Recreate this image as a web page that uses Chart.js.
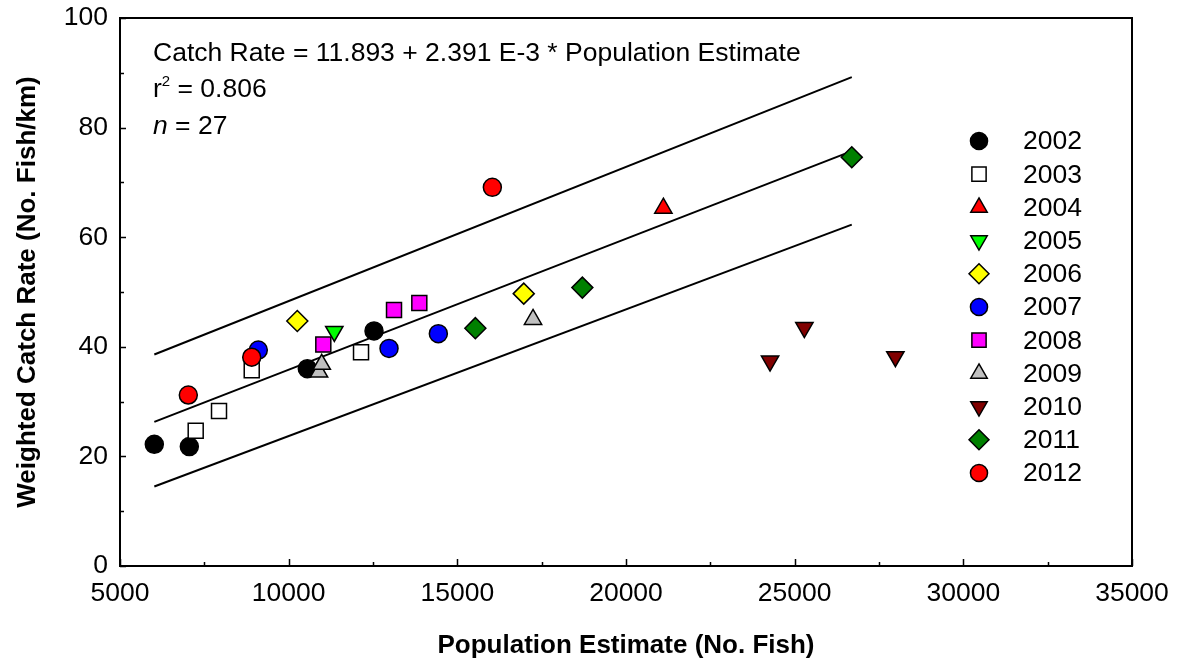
<!DOCTYPE html>
<html>
<head>
<meta charset="utf-8">
<script src="https://cdn.jsdelivr.net/npm/chart.js@4.4.1/dist/chart.umd.min.js"></script>
<style>
  html, body { margin: 0; padding: 0; background: #fff; }
  #wrap { width: 1178px; height: 665px; }
</style>
</head>
<body>
<div id="wrap"><canvas id="chart" width="1178" height="665"></canvas></div>
<script>
// values, one row per sampling year
const years = ["2002", "2003", "2004", "2005", "2006", "2007", "2008", "2009", "2010", "2011", "2012"];
const popEstimate = [
  [6017, 7055, 10553, 12530],
  [7244, 7935, 8905, 12145],
  [21108],
  [11353],
  [10256, 16969],
  [9100, 12975, 14437],
  [11027, 13123, 13873],
  [10900, 10980, 17244],
  [24271, 25288, 27985],
  [15534, 18706, 26693],
  [7025, 8905, 16038],
];
const catchRate = [
  [22.2, 21.8, 36.0, 42.9],
  [24.7, 28.3, 35.7, 39.0],
  [65.3],
  [42.8],
  [44.7, 49.7],
  [39.4, 39.7, 42.4],
  [40.4, 46.7, 48.0],
  [35.4, 36.8, 45.0],
  [37.4, 43.5, 38.2],
  [43.4, 50.8, 74.6],
  [31.2, 38.1, 69.1],
];

// regression line and its two bounding lines (end points)
const lineX = [6017, 26693];
const fitY = [26.3, 75.7];
const upperY = [38.6, 89.2];
const lowerY = [14.5, 62.3];

const xTicks = [5000, 10000, 15000, 20000, 25000, 30000, 35000];
const yTicks = [0, 20, 40, 60, 80, 100];

const fillColors = ["#000000", "#ffffff", "#ff0000", "#00ff00", "#ffff00", "#0000ff", "#ff00ff", "#c0c0c0", "#800000", "#008000", "#ff0000"];
const shapes = ["circle", "rect", "triangle", "triangle", "rectRot", "circle", "rect", "triangle", "triangle", "rectRot", "circle"];
const turns = [0, 0, 0, 180, 0, 0, 0, 0, 180, 0, 0];
const sizes = { circle: 9, rect: 10.6, triangle: 10, rectRot: 10.5 };

const FONT = "'Liberation Sans', Arial, Helvetica, sans-serif";
const TXT = 26.5;

function pairs(xs, ys) {
  return xs.map((v, i) => ({ x: v, y: ys[i] }));
}

const scatterSets = years.map((yr, i) => ({
  label: yr,
  data: pairs(popEstimate[i], catchRate[i]),
  showLine: false,
  pointStyle: shapes[i],
  rotation: turns[i],
  pointRadius: sizes[shapes[i]],
  pointHoverRadius: sizes[shapes[i]],
  pointBackgroundColor: fillColors[i],
  pointBorderColor: "#000",
  pointBorderWidth: 1.5,
  order: years.length - i,
}));

function lineSet(label, ys) {
  return {
    label: label,
    data: pairs(lineX, ys),
    showLine: true,
    borderColor: "#000",
    borderWidth: 2,
    pointRadius: 0,
    fill: false,
    order: 50,
  };
}

const boxAndText = {
  id: "boxAndText",
  afterDatasetsDraw(chart) {
    const { ctx, chartArea: a, scales } = chart;
    const sx = scales.x, sy = scales.y;
    ctx.save();

    // frame
    ctx.strokeStyle = "#000";
    ctx.lineWidth = 2;
    ctx.strokeRect(a.left, a.top, a.right - a.left, a.bottom - a.top);

    // inward ticks, major + minor
    ctx.lineWidth = 1.5;
    ctx.beginPath();
    for (let i = 0; i < xTicks.length; i++) {
      const px = Math.round(sx.getPixelForValue(xTicks[i])) + 0.5;
      ctx.moveTo(px, a.bottom); ctx.lineTo(px, a.bottom - 7);
      if (i < xTicks.length - 1) {
        const mx = Math.round(sx.getPixelForValue((xTicks[i] + xTicks[i + 1]) / 2)) + 0.5;
        ctx.moveTo(mx, a.bottom); ctx.lineTo(mx, a.bottom - 4);
      }
    }
    for (let i = 0; i < yTicks.length; i++) {
      const py = Math.round(sy.getPixelForValue(yTicks[i])) + 0.5;
      ctx.moveTo(a.left, py); ctx.lineTo(a.left + 6, py);
      if (i < yTicks.length - 1) {
        const my = Math.round(sy.getPixelForValue((yTicks[i] + yTicks[i + 1]) / 2)) + 0.5;
        ctx.moveTo(a.left, my); ctx.lineTo(a.left + 4, my);
      }
    }
    ctx.stroke();

    // equation block
    ctx.fillStyle = "#000";
    ctx.textBaseline = "alphabetic";
    ctx.textAlign = "left";
    const tx = 153;
    ctx.font = TXT + "px " + FONT;
    ctx.fillText("Catch Rate = 11.893 + 2.391 E-3 * Population Estimate", tx, 61);
    ctx.fillText("r", tx, 97);
    let w = ctx.measureText("r").width;
    ctx.font = "15px " + FONT;
    ctx.fillText("2", tx + w, 86);
    w += ctx.measureText("2").width;
    ctx.font = TXT + "px " + FONT;
    ctx.fillText(" = 0.806", tx + w, 97);
    ctx.font = "italic " + TXT + "px " + FONT;
    ctx.fillText("n", tx, 134);
    w = ctx.measureText("n").width;
    ctx.font = TXT + "px " + FONT;
    ctx.fillText(" = 27", tx + w, 134);

    // legend
    const lx = 979, ly = 141, step = 33.2;
    ctx.textBaseline = "middle";
    years.forEach((yr, i) => {
      const cy = ly + i * step;
      ctx.fillStyle = fillColors[i];
      ctx.strokeStyle = "#000";
      ctx.lineWidth = 1.5;
      const opts = { pointStyle: shapes[i], rotation: turns[i], radius: sizes[shapes[i]] * 0.95, borderWidth: 1.5 };
      Chart.helpers.drawPoint(ctx, opts, lx, cy);
      ctx.fillStyle = "#000";
      ctx.font = TXT + "px " + FONT;
      ctx.fillText(yr, 1023, cy + 1);
    });
    ctx.restore();
  },
};

const ctx = document.getElementById("chart").getContext("2d");
const chart = new Chart(ctx, {
  type: "scatter",
  data: {
    datasets: [
      lineSet("fit", fitY),
      lineSet("upper", upperY),
      lineSet("lower", lowerY),
      ...scatterSets,
    ],
  },
  options: {
    responsive: false,
    animation: false,
    devicePixelRatio: 1,
    layout: { padding: { left: 0, top: 18, right: 46, bottom: 0 } },
    plugins: {
      legend: { display: false },
      tooltip: { enabled: false },
    },
    scales: {
      x: {
        type: "linear",
        min: 5000,
        max: 35000,
        afterBuildTicks: (s) => { s.ticks = xTicks.map((v) => ({ value: v })); },
        afterFit: (s) => { s.height = 99; s.paddingLeft = 0; s.paddingRight = 0; },
        ticks: {
          color: "#000",
          font: { size: TXT, family: FONT },
          padding: 12,
          maxRotation: 0,
          autoSkip: false,
          callback: (v) => String(v),
        },
        grid: { display: false, drawTicks: false },
        border: { display: false },
        title: {
          display: true,
          text: "Population Estimate (No. Fish)",
          color: "#000",
          font: { size: 26, weight: "bold", family: FONT },
          padding: { top: 0, bottom: 4 },
        },
      },
      y: {
        type: "linear",
        min: 0,
        max: 100,
        afterBuildTicks: (s) => { s.ticks = yTicks.map((v) => ({ value: v })); },
        afterFit: (s) => { s.width = 120; s.paddingTop = 0; s.paddingBottom = 0; },
        ticks: {
          color: "#000",
          font: { size: TXT, family: FONT },
          padding: 12,
          autoSkip: false,
          callback: (v) => String(v),
        },
        grid: { display: false, drawTicks: false },
        border: { display: false },
        title: {
          display: true,
          text: "Weighted Catch Rate (No. Fish/km)",
          color: "#000",
          font: { size: 26, weight: "bold", family: FONT },
          padding: { top: 12, bottom: 0 },
        },
      },
    },
  },
  plugins: [boxAndText],
});
</script>
</body>
</html>
